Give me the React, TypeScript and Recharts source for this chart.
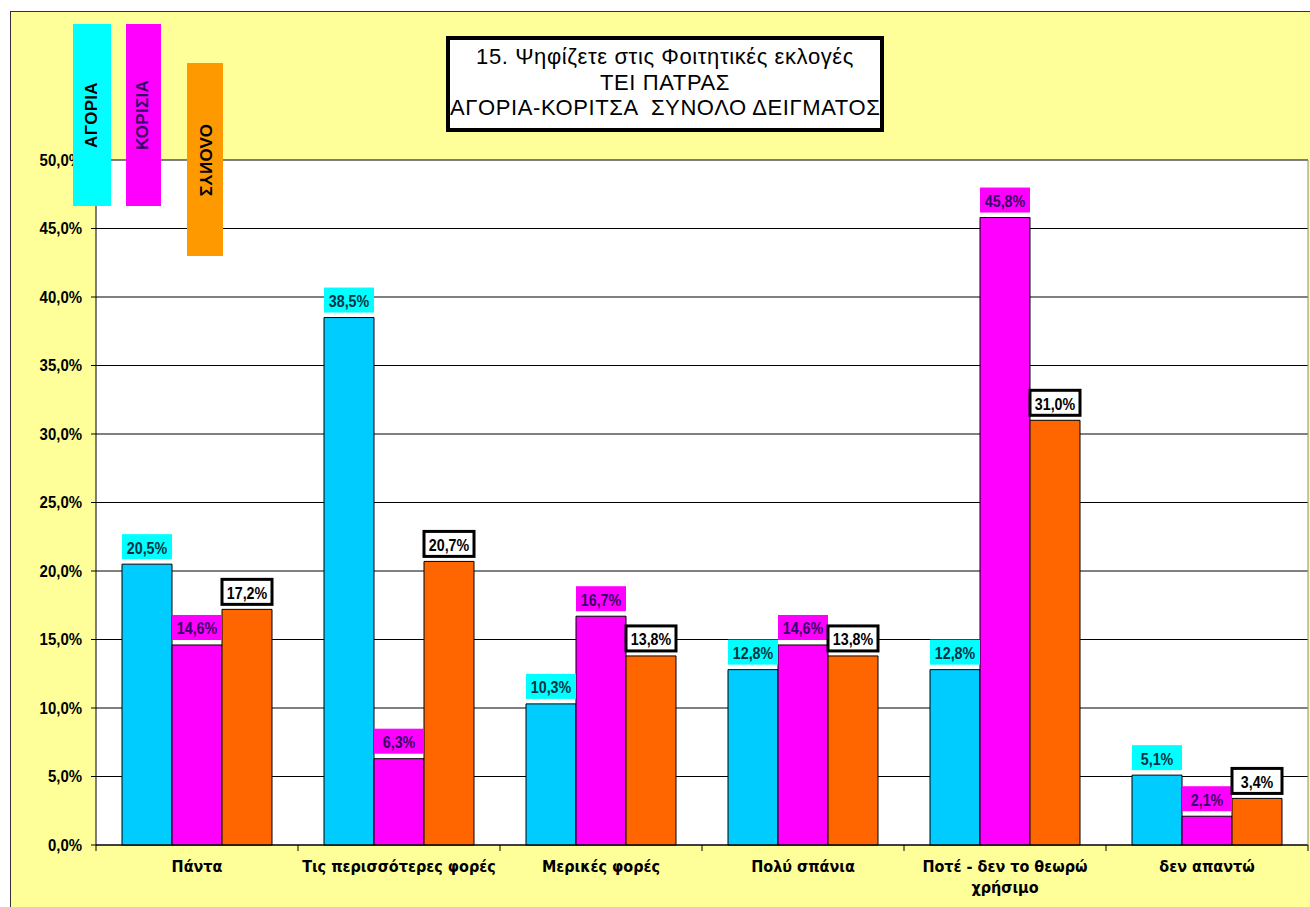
import React from "react";
import { BarChart, Bar, XAxis, YAxis, CartesianGrid, LabelList, Legend } from "recharts";

// survey answers (x categories), "\n" marks a line break in the tick label
const categories = [
  "Πάντα",
  "Τις περισσότερες φορές",
  "Μερικές φορές",
  "Πολύ σπάνια",
  "Ποτέ - δεν το θεωρώ\nχρήσιμο",
  "δεν απαντώ",
];

const boys = [20.5, 38.5, 10.3, 12.8, 12.8, 5.1];
const girls = [14.6, 6.3, 16.7, 14.6, 45.8, 2.1];
const total = [17.2, 20.7, 13.8, 13.8, 31.0, 3.4];

const seriesNames = ["ΑΓΟΡΙΑ", "ΚΟΡΙΣΙΑ", "ΣΥΝΟΛΟ"];
const yTicks = [0, 5, 10, 15, 20, 25, 30, 35, 40, 45, 50];
const titleLines = [
  "15. Ψηφίζετε στις Φοιτητικές εκλογές",
  "ΤΕΙ ΠΑΤΡΑΣ",
  "ΑΓΟΡΙΑ-ΚΟΡΙΤΣΑ  ΣΥΝΟΛΟ ΔΕΙΓΜΑΤΟΣ",
];

const data = categories.map((name, i) => ({
  name,
  boys: boys[i],
  girls: girls[i],
  total: total[i],
}));

const NARROW = '"Liberation Sans Narrow", "Arial Narrow", "DejaVu Sans Condensed", Arial, sans-serif';
const ARIAL = '"Liberation Sans", Arial, sans-serif';

const fmt = (v: number) => Number(v).toFixed(1).replace(".", ",") + "%";

// no narrow arial here, so squeeze regular bold arial horizontally
const SqueezedText = ({ x, y, anchor, size, fill, sx, children }: any) => (
  <g transform={`translate(${x},${y}) scale(${sx},1)`}>
    <text
      x={0}
      y={0}
      textAnchor={anchor}
      dominantBaseline="central"
      fontFamily={ARIAL}
      fontWeight={700}
      fontSize={size}
      fill={fill}
    >
      {children}
    </text>
  </g>
);

// legend boxes: the old excel sheet had them as loose coloured shapes
const legendStyle: Record<string, any> = {
  "ΑΓΟΡΙΑ": { left: 73, top: 24, width: 38, height: 182, bg: "#00FFFF", fg: "#000", rot: "rotate(-90deg)" },
  "ΚΟΡΙΣΙΑ": { left: 126, top: 24, width: 35, height: 182, bg: "#FF00FF", fg: "#330066", rot: "rotate(-90deg)" },
  "ΣΥΝΟΛΟ": { left: 187, top: 63, width: 36, height: 193, bg: "#FF9900", fg: "#000", rot: "scaleX(-1) rotate(-90deg)" },
};

const LegendBoxes = (props: any) => {
  const items = props.payload || [];
  return (
    <div style={{ position: "relative" }}>
      {items.map((it: any) => {
        const s = legendStyle[it.value];
        if (!s) return null;
        return (
          <div
            key={it.value}
            style={{
              position: "absolute",
              left: s.left,
              top: s.top,
              width: s.width,
              height: s.height,
              background: s.bg,
              display: "flex",
              alignItems: "center",
              justifyContent: "center",
            }}
          >
            <span
              style={{
                transform: s.rot,
                whiteSpace: "nowrap",
                fontFamily: ARIAL,
                fontWeight: 700,
                fontSize: 17,
                letterSpacing: 0.3,
                color: s.fg,
              }}
            >
              {it.value}
            </span>
          </div>
        );
      })}
    </div>
  );
};

const makeLabel = (bg: string, fg: string, boxed: boolean) => (props: any) => {
  const { x, y, width, value } = props;
  const h = 25;
  const w = Number(width);
  const bx = Number(x);
  const by = Number(y) - 5 - h;
  return (
    <g>
      <rect
        x={bx}
        y={by}
        width={w}
        height={h}
        fill={bg}
        stroke={boxed ? "#000" : "none"}
        strokeWidth={boxed ? 3 : 0}
      />
      <SqueezedText x={bx + w / 2} y={by + h / 2 + 1} anchor="middle" size={17} sx={0.84} fill={fg}>
        {fmt(value)}
      </SqueezedText>
    </g>
  );
};

const YTick = (props: any) => {
  const { x, y, payload } = props;
  return (
    <SqueezedText x={x} y={y} anchor="end" size={17} sx={0.88} fill="#000">
      {fmt(payload.value)}
    </SqueezedText>
  );
};

const XTick = (props: any) => {
  const { x, y, payload, index, width, visibleTicksCount } = props;
  const band = (Number(width) || 1212) / (visibleTicksCount || categories.length);
  const lines = String(payload.value).split("\n");
  return (
    <g>
      <line x1={x - band / 2} x2={x - band / 2} y1={y} y2={y + 6} stroke="#000" />
      {index === categories.length - 1 && (
        <line x1={x + band / 2} x2={x + band / 2} y1={y} y2={y + 6} stroke="#000" />
      )}
      {lines.map((ln, i) => (
        <text
          key={i}
          x={x}
          y={y + 27 + i * 21}
          textAnchor="middle"
          fontFamily={NARROW}
          fontWeight={700}
          fontSize={16}
          fill="#000"
        >
          {ln}
        </text>
      ))}
    </g>
  );
};

export default function App() {
  return (
    <div
      style={{
        position: "absolute",
        left: 0,
        top: 0,
        width: 1310,
        height: 907,
        overflow: "hidden",
        background: "#fff",
      }}
    >
      <div
        style={{
          position: "absolute",
          left: 10,
          top: 11,
          width: 1310,
          height: 907,
          background: "#FFFF99",
          border: "1px solid #333",
        }}
      />
      <div style={{ position: "absolute", left: 0, top: 0 }}>
        <BarChart
          width={1310}
          height={907}
          data={data}
          margin={{ top: 160, right: 0, bottom: 0, left: 0 }}
          barSize={50}
          barGap={0}
        >
          <CartesianGrid vertical={false} stroke="#000" fill="#fff" fillOpacity={1} />
          <XAxis
            dataKey="name"
            height={62}
            interval={0}
            axisLine={{ stroke: "#000" }}
            tickLine={false}
            tickSize={0}
            tickMargin={0}
            tick={<XTick />}
          />
          <YAxis
            width={96}
            domain={[0, 50]}
            ticks={yTicks}
            interval={0}
            axisLine={{ stroke: "#000" }}
            tickLine={{ stroke: "#000" }}
            tickSize={5}
            tickMargin={9}
            tick={<YTick />}
          />
          <YAxis
            yAxisId="frame"
            orientation="right"
            width={2}
            domain={[0, 50]}
            tick={false}
            tickLine={false}
            axisLine={{ stroke: "#8c8c7a" }}
          />
          <Legend
            layout="vertical"
            align="center"
            verticalAlign="middle"
            wrapperStyle={{ left: 0, top: 0, width: 300, height: 0 }}
            content={<LegendBoxes />}
          />
          <Bar dataKey="boys" name={seriesNames[0]} fill="#00CCFF" stroke="#000" strokeWidth={1} isAnimationActive={false}>
            <LabelList dataKey="boys" content={makeLabel("#00FFFF", "#003344", false)} />
          </Bar>
          <Bar dataKey="girls" name={seriesNames[1]} fill="#FF00FF" stroke="#000" strokeWidth={1} isAnimationActive={false}>
            <LabelList dataKey="girls" content={makeLabel("#FF00FF", "#330066", false)} />
          </Bar>
          <Bar dataKey="total" name={seriesNames[2]} fill="#FF6600" stroke="#000" strokeWidth={1} isAnimationActive={false}>
            <LabelList dataKey="total" content={makeLabel("#fff", "#000", true)} />
          </Bar>
        </BarChart>
      </div>
      <div
        style={{
          position: "absolute",
          left: 446,
          top: 36,
          width: 438,
          height: 96,
          boxSizing: "border-box",
          border: "4px solid #000",
          background: "#fff",
          paddingTop: 4,
          textAlign: "center",
          fontFamily: ARIAL,
          fontSize: 22,
          lineHeight: "25.5px",
          letterSpacing: 0.6,
          color: "#000",
        }}
      >
        {titleLines.map((t) => (
          <div key={t} style={{ whiteSpace: "pre" }}>
            {t}
          </div>
        ))}
      </div>
    </div>
  );
}
